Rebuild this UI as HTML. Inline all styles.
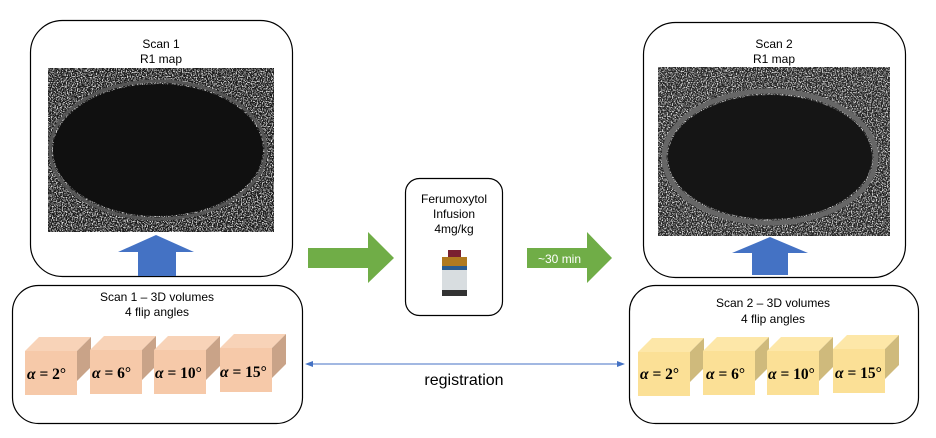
<!DOCTYPE html>
<html><head><meta charset="utf-8"><style>
html,body{margin:0;padding:0;background:#fff;}
svg{display:block;font-family:"Liberation Sans",sans-serif;}
.m{font-family:"Liberation Serif",serif;font-weight:bold;}
.m tspan.a{font-style:italic;}
</style></head><body>
<svg width="936" height="438" viewBox="0 0 936 438" xmlns="http://www.w3.org/2000/svg">
<defs>
<filter id="nz" x="0" y="0" width="100%" height="100%">
<feTurbulence type="fractalNoise" baseFrequency="0.8" numOctaves="2" seed="3" result="t"/>
<feColorMatrix type="matrix" values="0 0 0 0 0.85  0 0 0 0 0.85  0 0 0 0 0.85  4 0 0 0 -2.0" in="t" result="c"/>
<feComposite in="c" in2="SourceGraphic" operator="over"/>
</filter>
<g id="cube1">
<polygon points="0,14 14,0 66,0 52,14" fill="#f8d3b8"/>
<polygon points="52,14 66,0 66,30 52,44" fill="#c9a388"/>
<rect x="0" y="14" width="52" height="44" fill="#f6c9a9"/>
</g>
<g id="cube2">
<polygon points="0,14 14,0 66,0 52,14" fill="#fde7a8"/>
<polygon points="52,14 66,0 66,30 52,44" fill="#cfba7c"/>
<rect x="0" y="14" width="52" height="44" fill="#fbe096"/>
</g>
</defs>

<!-- left top -->
<rect x="30.5" y="20.5" width="262" height="256" rx="32" fill="#fff" stroke="#000" stroke-width="1.2"/>
<text x="161" y="48" font-size="12" text-anchor="middle">Scan 1</text>
<text x="161" y="63" font-size="12" text-anchor="middle">R1 map</text>
<g filter="url(#nz)"><rect x="48" y="68" width="226" height="164" fill="#1e1e1e"/></g>
<ellipse cx="158" cy="150" rx="108" ry="69" fill="none" stroke="#555" stroke-width="3"/>
<ellipse cx="158" cy="150" rx="105" ry="66" fill="#101010"/>
<polygon points="156,235 194,252 176,252 176,276 138,276 138,252 118,252" fill="#4472c4"/>

<!-- left bottom -->
<rect x="12.5" y="285.5" width="290" height="138" rx="26" fill="#fff" stroke="#000" stroke-width="1.2"/>
<text x="157" y="301" font-size="12" text-anchor="middle">Scan 1 – 3D volumes</text>
<text x="157" y="316" font-size="12" text-anchor="middle">4 flip angles</text>
<use href="#cube1" x="25" y="337"/>
<use href="#cube1" x="90" y="336"/>
<use href="#cube1" x="154" y="336"/>
<use href="#cube1" x="220" y="334"/>
<g class="m" font-size="15.5">
<text x="27" y="379"><tspan class="a">α</tspan> = 2°</text>
<text x="92" y="378"><tspan class="a">α</tspan> = 6°</text>
<text x="155" y="378"><tspan class="a">α</tspan> = 10°</text>
<text x="220" y="377"><tspan class="a">α</tspan> = 15°</text>
</g>

<!-- green arrows -->
<polygon points="308,248 368,248 368,232 394,258 368,283 368,268 308,268" fill="#70ad47"/>
<rect x="405.5" y="178.5" width="97" height="137" rx="14" fill="#fff" stroke="#000" stroke-width="1.2"/>
<text x="454" y="203" font-size="12" text-anchor="middle">Ferumoxytol</text>
<text x="454" y="218" font-size="12" text-anchor="middle">Infusion</text>
<text x="454" y="233" font-size="12" text-anchor="middle">4mg/kg</text>
<rect x="448" y="250" width="13" height="7" fill="#7a2030"/>
<rect x="442" y="257" width="25" height="9" fill="#b07a20"/>
<rect x="442" y="266" width="25" height="30" fill="#d8dde0"/>
<rect x="442" y="266" width="25" height="4" fill="#2a5c90"/>
<rect x="442" y="290" width="25" height="6" fill="#333"/>
<polygon points="527,248 587,248 587,232 612,258 587,283 587,268 527,268" fill="#70ad47"/>
<text x="538" y="263" font-size="12" fill="#fff">~30 min</text>

<!-- right top -->
<rect x="643.5" y="22.5" width="262" height="255" rx="32" fill="#fff" stroke="#000" stroke-width="1.2"/>
<text x="774" y="48" font-size="12" text-anchor="middle">Scan 2</text>
<text x="774" y="63" font-size="12" text-anchor="middle">R1 map</text>
<g filter="url(#nz)"><rect x="658" y="67" width="232" height="169" fill="#262626"/></g>
<ellipse cx="770" cy="157" rx="106" ry="66" fill="none" stroke="#666" stroke-width="5"/>
<ellipse cx="770" cy="157" rx="102" ry="62" fill="#151515"/>
<polygon points="770,237 808,253 788,253 788,275 752,275 752,253 732,253" fill="#4472c4"/>

<!-- right bottom -->
<rect x="629.5" y="285.5" width="289" height="138" rx="26" fill="#fff" stroke="#000" stroke-width="1.2"/>
<text x="773" y="307" font-size="12" text-anchor="middle">Scan 2 – 3D volumes</text>
<text x="773" y="323" font-size="12" text-anchor="middle">4 flip angles</text>
<use href="#cube2" x="638" y="338"/>
<use href="#cube2" x="703" y="337"/>
<use href="#cube2" x="767" y="337"/>
<use href="#cube2" x="833" y="335"/>
<g class="m" font-size="15.5">
<text x="640" y="379"><tspan class="a">α</tspan> = 2°</text>
<text x="706" y="379"><tspan class="a">α</tspan> = 6°</text>
<text x="768" y="379"><tspan class="a">α</tspan> = 10°</text>
<text x="835" y="378"><tspan class="a">α</tspan> = 15°</text>
</g>

<!-- registration -->
<line x1="310" y1="364" x2="620" y2="364" stroke="#4472c4" stroke-width="1"/>
<polygon points="305,364 313,361 313,367" fill="#4472c4"/>
<polygon points="625,364 617,361 617,367" fill="#4472c4"/>
<text x="464" y="385" font-size="16" text-anchor="middle">registration</text>
</svg>
</body></html>
